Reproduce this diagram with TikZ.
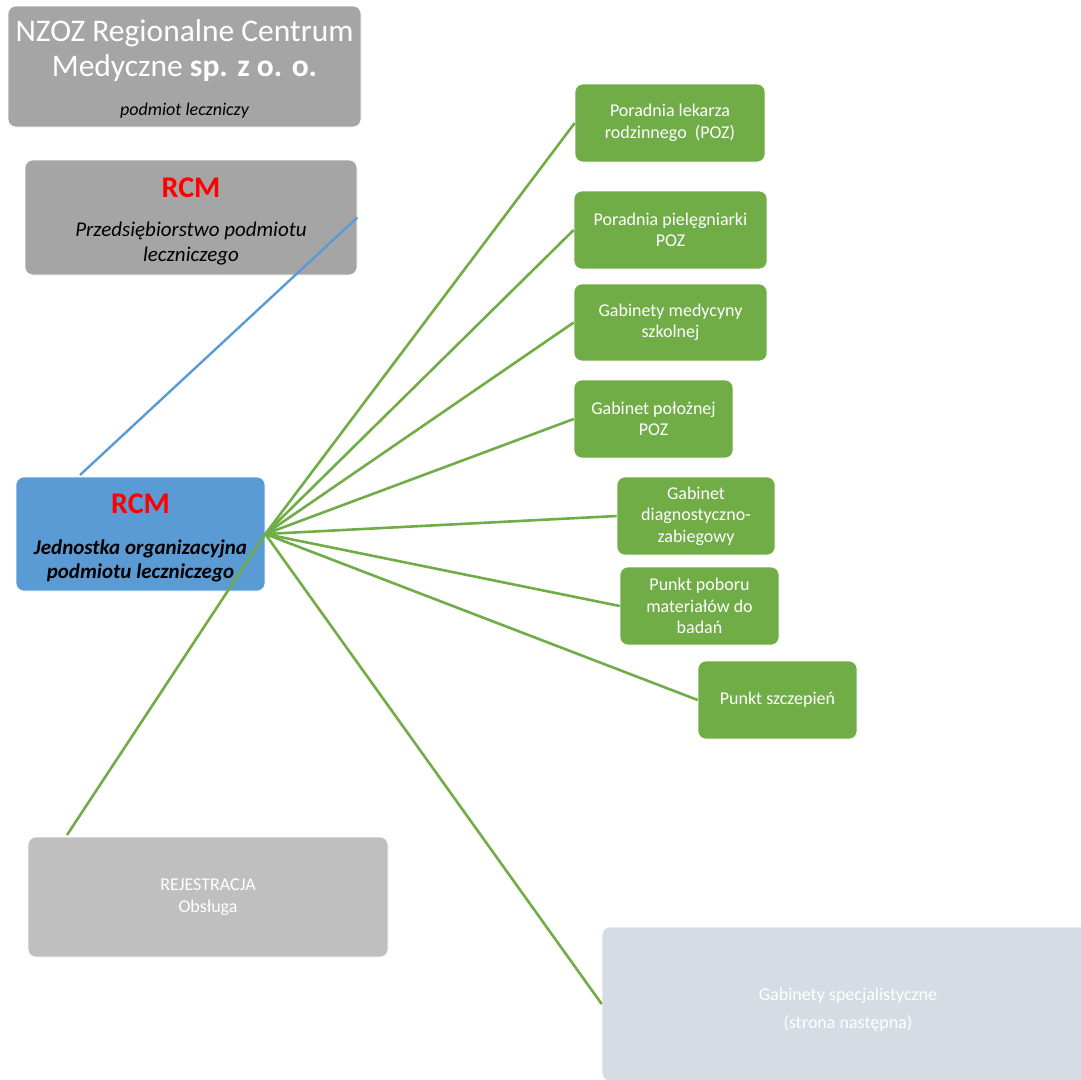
\documentclass[tikz,border=0pt]{standalone}
\usepackage{fontspec}
\setmainfont{Carlito}
\definecolor{boxgray}{HTML}{A5A5A5}
\definecolor{boxblue}{HTML}{5B9BD5}
\definecolor{boxgreen}{HTML}{70AD47}
\definecolor{reggray}{HTML}{BFBFBF}
\definecolor{specgray}{HTML}{D6DCE4}
\definecolor{rcmred}{HTML}{FF0000}
\tikzset{
  box/.style={rectangle, rounded corners=8pt, draw=white, line width=0.6pt, inner sep=0pt, align=center},
  greenbox/.style={box, fill=boxgreen, text=white, font=\fontsize{18}{21.5}\selectfont, minimum height=78pt},
  greenline/.style={boxgreen, line width=2.6pt},
  blueline/.style={boxblue, line width=2.4pt}
}
\begin{document}
\begin{tikzpicture}[x=1pt,y=-1pt]
\useasboundingbox (0,0) rectangle (1081,1079);
\node[box, fill=boxgray, text=white, minimum width=353pt, minimum height=121pt, font=\fontsize{31.5}{35}\selectfont] (nzoz) at (184.5,66.5)
  {\rule{0pt}{27pt}NZOZ Regionalne Centrum\\Medyczne \textbf{sp. z o. o.}\\[4pt]{\fontsize{18}{22}\selectfont\itshape\color{black}podmiot leczniczy}};
\node[box, fill=boxgray, minimum width=332pt, minimum height=115pt, font=\fontsize{21}{25}\selectfont\itshape] (rcm) at (191,217.5)
  {{\fontsize{30}{30}\selectfont\upshape\bfseries\color{rcmred}\rule{0pt}{28pt}RCM}\\[14pt]Przedsiębiorstwo podmiotu\\leczniczego};
\node[box, fill=boxblue, minimum width=249pt, minimum height=114pt, font=\fontsize{21}{24}\selectfont\bfseries\itshape] (unit) at (140.5,534)
  {{\fontsize{30}{30}\selectfont\upshape\color{rcmred}\rule{0pt}{28pt}RCM}\\[17pt]Jednostka organizacyjna\\podmiotu leczniczego};
% gabinety POZ
\node[greenbox, minimum width=190pt] (lekarz) at (670,123) {Poradnia lekarza\\rodzinnego~~(POZ)};
\node[greenbox, minimum width=193pt] (pielegn) at (670.5,230) {Poradnia pielęgniarki\\POZ};
\node[greenbox, minimum width=193pt, minimum height=77pt] (szkolna) at (670.5,322.5) {Gabinety medycyny\\szkolnej};
\node[greenbox, minimum width=159pt] (polozna) at (653.5,419) {Gabinet położnej\\POZ};
\node[greenbox, minimum width=158pt] (diagn) at (696,516) {Gabinet\\diagnostyczno-\\zabiegowy};
\node[greenbox, minimum width=159pt] (pobor) at (699.5,606) {Punkt poboru\\materiałów do\\badań};
\node[greenbox, minimum width=159pt] (szczep) at (777.5,700) {Punkt szczepień};
\node[box, fill=reggray, text=white, minimum width=360pt, minimum height=120pt, font=\fontsize{18}{22}\selectfont] (rejestr) at (208,897)
  {REJESTRACJA\\Obsługa};
\node[box, fill=specgray, text=white, minimum width=492pt, minimum height=154pt, font=\fontsize{18}{22}\selectfont] (spec) at (848,1004)
  {\rule{0pt}{24pt}Gabinety specjalistyczne\\[6pt](strona następna)};
\coordinate (unittop) at (80,475);
\coordinate (rejtop) at (67,835);
\draw[blueline] (unittop) -- (rcm.east);
\foreach \g in {lekarz,pielegn,szkolna,polozna,diagn,pobor,szczep,spec}
  \draw[greenline] (unit.east) -- (\g.west);
\draw[greenline] (unit.east) -- (rejtop);
\end{tikzpicture}
\end{document}
